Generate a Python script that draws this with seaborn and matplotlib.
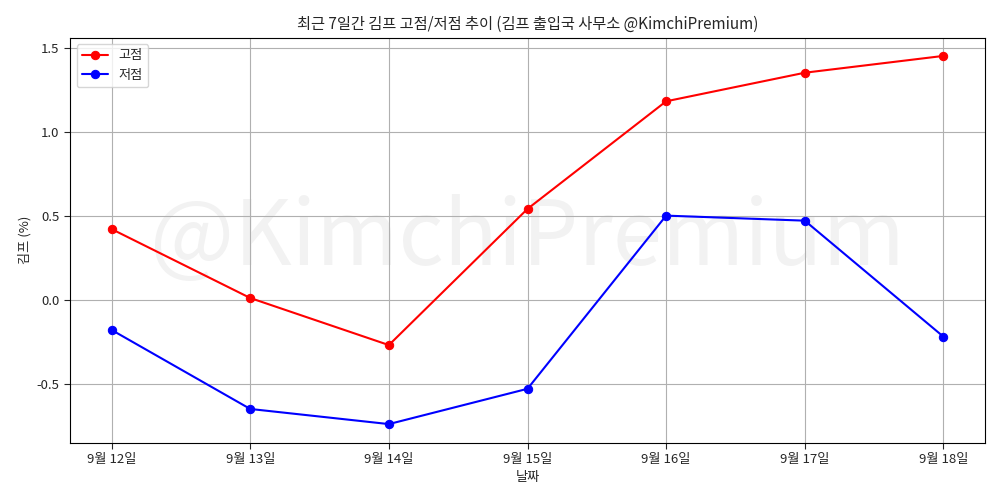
import matplotlib
matplotlib.use("Agg")
import matplotlib.pyplot as plt
import seaborn as sns
import pandas as pd

dates = ['9월 12일', '9월 13일', '9월 14일', '9월 15일', '9월 16일', '9월 17일', '9월 18일']
high = [0.42, 0.01, -0.27, 0.54, 1.18, 1.35, 1.45]
low = [-0.18, -0.65, -0.74, -0.53, 0.50, 0.47, -0.22]

sns.set_style('white')
plt.rcParams['font.family'] = ['Noto Sans CJK KR', 'DejaVu Sans']
plt.rcParams['axes.unicode_minus'] = False
plt.rcParams['font.size'] = 9.5

df = pd.DataFrame({'x': range(len(dates)), 'high': high, 'low': low})

fig, ax = plt.subplots(figsize=(10, 5), dpi=100)
ax.text(0.5, 0.5, '@KimchiPremium', transform=ax.transAxes, fontsize=64,
        color='gray', alpha=0.1, ha='center', va='center', zorder=0)
sns.lineplot(data=df, x='x', y='high', color='red', marker='o', markersize=6,
             markeredgecolor='red', label='고점', ax=ax)
sns.lineplot(data=df, x='x', y='low', color='blue', marker='o', markersize=6,
             markeredgecolor='blue', label='저점', ax=ax)
ax.set_xticks(range(len(dates)))
ax.set_xticklabels(dates)
ax.grid(True, color='#b0b0b0')
for s in ax.spines.values():
    s.set_color('black')
ax.tick_params(left=True, bottom=True, length=4)
ax.set_title('최근 7일간 김프 고점/저점 추이 (김프 출입국 사무소 @KimchiPremium)', fontsize=11)
ax.set_xlabel('날짜')
ax.set_ylabel('김프 (%)')
ax.legend(loc='upper left')
fig.subplots_adjust(left=0.07, right=0.985, top=0.925, bottom=0.115)
plt.savefig('out.png')
